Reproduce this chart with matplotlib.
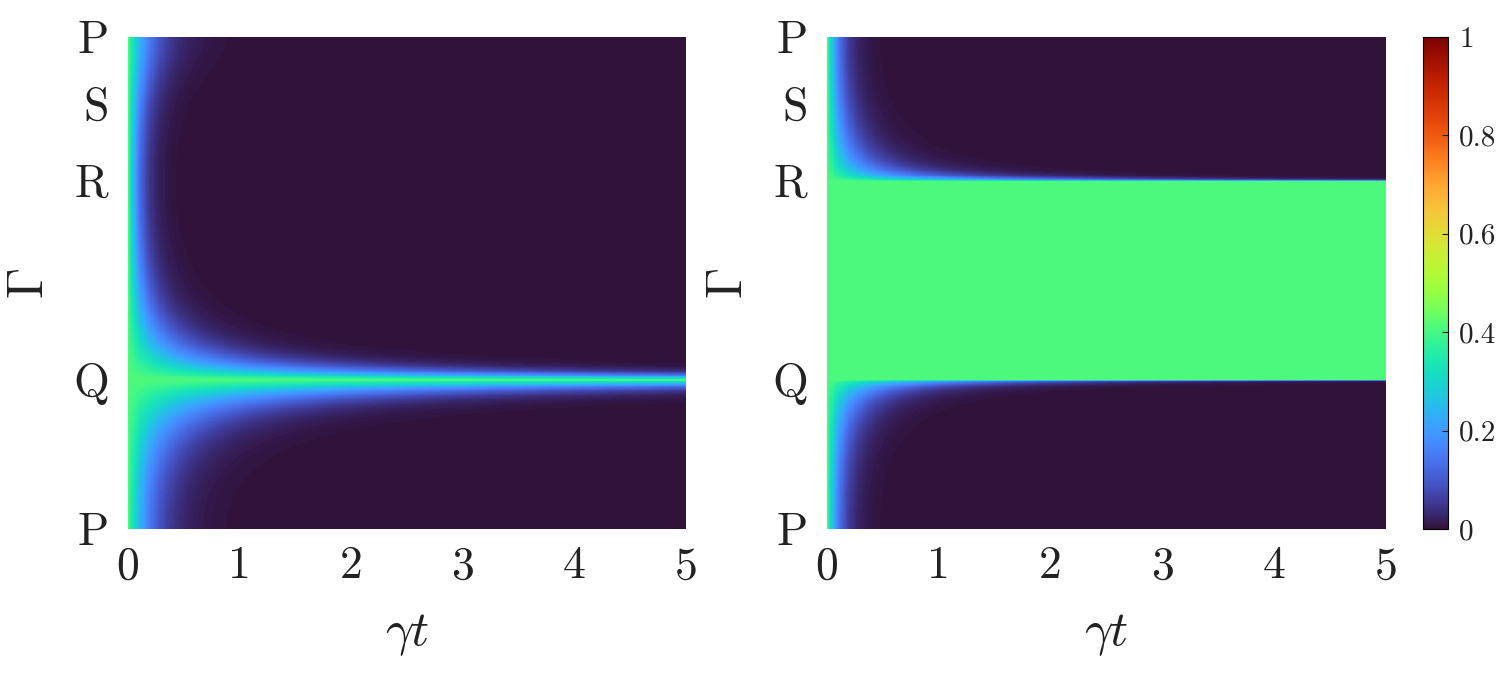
import numpy as np
import matplotlib
matplotlib.use("Agg")
import matplotlib.pyplot as plt

# ------------------------------------------------------------
# datos
# ------------------------------------------------------------

# camino en la zona de Brillouin: P -> Q -> R -> S -> P
etiquetas_camino = ["P", "Q", "R", "S", "P"]
pos_camino = [0.0, 0.303, 0.709, 0.864, 1.0]      # posicion de cada punto en el eje
kx_nodos = [0.0, np.pi, 0.0, 0.0, 0.0]
ky_nodos = [0.0, 0.0, np.pi, np.pi / 2, 0.0]

t_max = 5.0
x_ticks = [0, 1, 2, 3, 4, 5]
cbar_ticks = [0, 0.2, 0.4, 0.6, 0.8, 1]
cbar_labels = ["0", "0.2", "0.4", "0.6", "0.8", "1"]

# poblacion inicial (meseta verde)
n0 = 0.41

# tasas de decaimiento estimadas
# panel izquierdo: estado oscuro solo en Q
tasa_P_izq = 5.3
beta_izq = 2.4
expo_izq = 0.6
# panel derecho: linea oscura Q-R
tasa_P_der = 10.0
expo_der = 0.35

# ------------------------------------------------------------
# malla
# ------------------------------------------------------------

ny, nt = 600, 500
s = np.linspace(0, 1, ny)
t = np.linspace(0, t_max, nt)

kx = np.interp(s, pos_camino, kx_nodos)
ky = np.interp(s, pos_camino, ky_nodos)

w_izq = ((1 + np.cos(kx)) + beta_izq * (1 - np.cos(ky))) / 2
w_der = np.clip((1 + np.cos(kx + ky)) / 2, 0, None)

tasa_izq = tasa_P_izq * w_izq ** expo_izq
tasa_der = tasa_P_der * w_der ** expo_der

pob_izq = n0 * np.exp(-np.outer(tasa_izq, t))
pob_der = n0 * np.exp(-np.outer(tasa_der, t))

# ------------------------------------------------------------
# figura
# ------------------------------------------------------------

plt.rcParams.update({
    "font.family": "serif",
    "font.serif": ["cmr10"],
    "mathtext.fontset": "cm",
    "axes.formatter.use_mathtext": True,
})

color_texto = "#222222"

fig = plt.figure(figsize=(15, 6.75), dpi=100)
ax1 = fig.add_axes([128 / 1500, 146 / 675, 558 / 1500, 492 / 675])
ax2 = fig.add_axes([827 / 1500, 146 / 675, 559 / 1500, 492 / 675])
cax = fig.add_axes([1423 / 1500, 146 / 675, 25 / 1500, 492 / 675])

for ax, datos in [(ax1, pob_izq), (ax2, pob_der)]:
    im = ax.imshow(datos, cmap="turbo", vmin=0, vmax=1, aspect="auto",
                   origin="lower", extent=[0, t_max, 0, 1],
                   interpolation="nearest")
    ax.set_xticks(x_ticks)
    ax.set_xticklabels([str(v) for v in x_ticks])
    ax.set_yticks(pos_camino)
    ax.set_yticklabels(etiquetas_camino)
    ax.tick_params(length=0, labelsize=33, colors=color_texto)
    ax.tick_params(axis="x", pad=12)
    ax.tick_params(axis="y", pad=14)
    for sp in ax.spines.values():
        sp.set_visible(False)
    ax.set_xlabel(r"$\gamma t$", fontsize=36, color=color_texto)
    ax.set_ylabel(r"$\Gamma$", fontsize=36, color=color_texto)
    ax.xaxis.set_label_coords(0.5, -0.168)
    ax.yaxis.set_label_coords(-0.135, 0.5)

cb = fig.colorbar(im, cax=cax, ticks=cbar_ticks)
cb.ax.set_yticklabels(cbar_labels)
cb.ax.tick_params(direction="in", length=4, width=0.8, labelsize=21,
                  colors=color_texto, pad=8)
cb.outline.set_linewidth(0.8)

fig.savefig("out.png", dpi=100)
